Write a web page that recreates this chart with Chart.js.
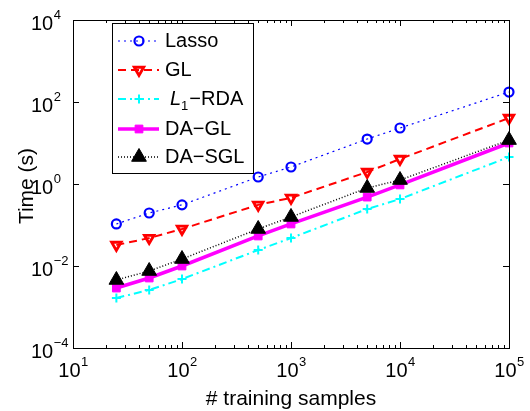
<!DOCTYPE html>
<html>
<head>
<meta charset="utf-8">
<script src="https://cdn.jsdelivr.net/npm/chart.js@4.4.0/dist/chart.umd.min.js"></script>
<style>
  html, body { margin: 0; padding: 0; background: #fff; }
  canvas { display: block; }
</style>
</head>
<body>
<canvas id="timeChart" width="530" height="411"></canvas>
<script>
// --- Data (log-log) ---
const samples = [25, 50, 100, 500, 1000, 5000, 10000, 100000];
const lassoTime = [0.106, 0.196, 0.31, 1.48, 2.6, 12.5, 23.2, 175];
const glTime = [0.0325, 0.048, 0.08, 0.31, 0.46, 1.96, 4.07, 40.7];
const l1rdaTime = [0.00166, 0.0026, 0.0048, 0.0245, 0.048, 0.245, 0.43, 4.56];
const daglTime = [0.0029, 0.0051, 0.01, 0.054, 0.106, 0.48, 0.95, 10];
const dasglTime = [0.00456, 0.00755, 0.0148, 0.08, 0.157, 0.8, 1.25, 11.8];

const xTickExps = [1, 2, 3, 4, 5];
const yTickExps = [-4, -2, 0, 2, 4];
const xTitle = '# training samples';
const yTitle = 'Time (s)';

const FONT = '"Liberation Sans", Arial, sans-serif';

function toPoints(values) {
  return samples.map((x, i) => ({ x, y: values[i] }));
}

// --- Series styles (MATLAB defaults look) ---
const datasets = [
  {
    label: 'Lasso', data: toPoints(lassoTime),
    borderColor: '#0000ff', borderWidth: 1.2, borderDash: [2, 4],
    pointStyle: 'circle', pointRadius: 4.5, pointBorderWidth: 2.2,
    pointBackgroundColor: 'rgba(0,0,0,0)', pointBorderColor: '#0000ff', order: 4
  },
  {
    label: 'GL', data: toPoints(glTime),
    borderColor: '#ff0000', borderWidth: 2, borderDash: [8, 5],
    pointStyle: 'triangle', pointRotation: 180, pointRadius: 5.5, pointBorderWidth: 2.8,
    pointBackgroundColor: 'rgba(0,0,0,0)', pointBorderColor: '#ff0000', order: 3
  },
  {
    label: 'L1-RDA', data: toPoints(l1rdaTime),
    borderColor: '#00ffff', borderWidth: 2, borderDash: [8, 4, 2, 4],
    pointStyle: 'cross', pointRadius: 4.5, pointBorderWidth: 2,
    pointBackgroundColor: '#00ffff', pointBorderColor: '#00ffff', order: 2
  },
  {
    label: 'DA-GL', data: toPoints(daglTime),
    borderColor: '#ff00ff', borderWidth: 3.5, borderDash: [],
    pointStyle: 'rect', pointRadius: 5.5, pointBorderWidth: 1,
    pointBackgroundColor: '#ff00ff', pointBorderColor: '#ff00ff', order: 1
  },
  {
    label: 'DA-SGL', data: toPoints(dasglTime),
    borderColor: '#000000', borderWidth: 1.5, borderDash: [1, 2],
    pointStyle: 'triangle', pointRadius: 8.5, pointBorderWidth: 1,
    pointBackgroundColor: '#000000', pointBorderColor: '#000000', order: 0
  }
].map(ds => ({ ...ds, fill: false, tension: 0, clip: false, pointHoverRadius: ds.pointRadius }));

// --- helpers ---
function supWidth(ctx, base, exp) {
  ctx.font = '20px ' + FONT;
  const w1 = ctx.measureText(base).width;
  ctx.font = '13px ' + FONT;
  return w1 + ctx.measureText(exp).width;
}

function drawSup(ctx, base, exp, x, baseline) {
  ctx.textAlign = 'left';
  ctx.textBaseline = 'alphabetic';
  ctx.font = '20px ' + FONT;
  ctx.fillText(base, x, baseline);
  const w1 = ctx.measureText(base).width;
  ctx.font = '13px ' + FONT;
  ctx.fillText(exp, x + w1 + 0.5, baseline - 11);
}

function expText(e) {
  return e < 0 ? '\u2212' + Math.abs(e) : String(e);
}

// --- frame, inward ticks, labels, titles and legend ---
const matlabAxes = {
  id: 'matlabAxes',
  afterDraw(chart) {
    const { ctx, chartArea: a, scales } = chart;
    const xs = scales.x, ys = scales.y;
    ctx.save();
    ctx.strokeStyle = '#000';
    ctx.lineWidth = 1;
    ctx.setLineDash([]);

    // box
    ctx.strokeRect(Math.round(a.left) + 0.5, Math.round(a.top) + 0.5,
      Math.round(a.right - a.left), Math.round(a.bottom - a.top));

    // x ticks (major + minor) top & bottom
    ctx.beginPath();
    for (let e = 1; e <= 5; e++) {
      for (let k = 1; k <= 9; k++) {
        const v = k * Math.pow(10, e);
        if (v > 1e5) break;
        const px = Math.round(xs.getPixelForValue(v)) + 0.5;
        const len = k === 1 ? 6 : 3;
        ctx.moveTo(px, a.bottom); ctx.lineTo(px, a.bottom - len);
        ctx.moveTo(px, a.top); ctx.lineTo(px, a.top + len);
      }
    }
    // y ticks left & right
    yTickExps.forEach(e => {
      const py = Math.round(ys.getPixelForValue(Math.pow(10, e))) + 0.5;
      ctx.moveTo(a.left, py); ctx.lineTo(a.left + 6, py);
      ctx.moveTo(a.right, py); ctx.lineTo(a.right - 6, py);
    });
    ctx.stroke();

    // tick labels
    ctx.fillStyle = '#000';
    xTickExps.forEach(e => {
      const px = xs.getPixelForValue(Math.pow(10, e));
      const w = supWidth(ctx, '10', expText(e));
      drawSup(ctx, '10', expText(e), px - w / 2, 377);
    });
    yTickExps.forEach(e => {
      const py = ys.getPixelForValue(Math.pow(10, e));
      drawSup(ctx, '10', expText(e), 31, py + 9.5);
    });

    // axis titles
    ctx.font = '21px ' + FONT;
    ctx.textAlign = 'center';
    ctx.textBaseline = 'alphabetic';
    ctx.fillText(xTitle, (a.left + a.right) / 2, 405);
    ctx.save();
    ctx.translate(33, (a.top + a.bottom) / 2 + 2);
    ctx.rotate(-Math.PI / 2);
    ctx.fillText(yTitle, 0, 0);
    ctx.restore();

    // legend box
    const lx = 112, ly = 23, lw = 141, lh = 150;
    ctx.fillStyle = '#fff';
    ctx.fillRect(lx, ly, lw, lh);
    ctx.strokeStyle = '#000';
    ctx.lineWidth = 1;
    ctx.strokeRect(lx + 0.5, ly + 0.5, lw, lh);

    const rowY = [41, 70, 99, 129, 157];
    chart.data.datasets.forEach((ds, i) => {
      const y = rowY[i];
      ctx.save();
      ctx.strokeStyle = ds.borderColor;
      ctx.lineWidth = ds.borderWidth;
      ctx.setLineDash(ds.borderDash);
      ctx.beginPath();
      ctx.moveTo(118, y); ctx.lineTo(159, y);
      ctx.stroke();
      ctx.setLineDash([]);
      ctx.fillStyle = ds.pointBackgroundColor;
      ctx.strokeStyle = ds.pointBorderColor;
      ctx.lineWidth = ds.pointBorderWidth;
      Chart.helpers.drawPoint(ctx, {
        pointStyle: ds.pointStyle, radius: ds.pointRadius,
        rotation: ds.pointRotation || 0, borderWidth: ds.pointBorderWidth
      }, 139, y);
      ctx.restore();

      ctx.fillStyle = '#000';
      ctx.textAlign = 'left';
      ctx.textBaseline = 'middle';
      if (ds.label === 'L1-RDA') {
        ctx.font = 'italic 20px ' + FONT;
        ctx.fillText('L', 170, y);
        let x = 170 + ctx.measureText('L').width;
        ctx.font = '13px ' + FONT;
        ctx.fillText('1', x, y + 7);
        x += ctx.measureText('1').width + 1;
        ctx.font = '20px ' + FONT;
        ctx.fillText('\u2212RDA', x, y);
      } else {
        ctx.font = '20px ' + FONT;
        ctx.fillText(ds.label.replace('-', '\u2212'), 165, y);
      }
    });
    ctx.restore();
  }
};

new Chart(document.getElementById('timeChart'), {
  type: 'line',
  data: { datasets },
  options: {
    responsive: false,
    animation: false,
    layout: { padding: { left: 73, right: 21, top: 20, bottom: 63 } },
    plugins: { legend: { display: false }, tooltip: { enabled: false } },
    scales: {
      x: {
        type: 'logarithmic', min: 10, max: 1e5,
        ticks: { display: false }, grid: { display: false, drawTicks: false }, border: { display: false }
      },
      y: {
        type: 'logarithmic', min: 1e-4, max: 1e4,
        ticks: { display: false }, grid: { display: false, drawTicks: false }, border: { display: false }
      }
    }
  },
  plugins: [matlabAxes]
});
</script>
</body>
</html>
